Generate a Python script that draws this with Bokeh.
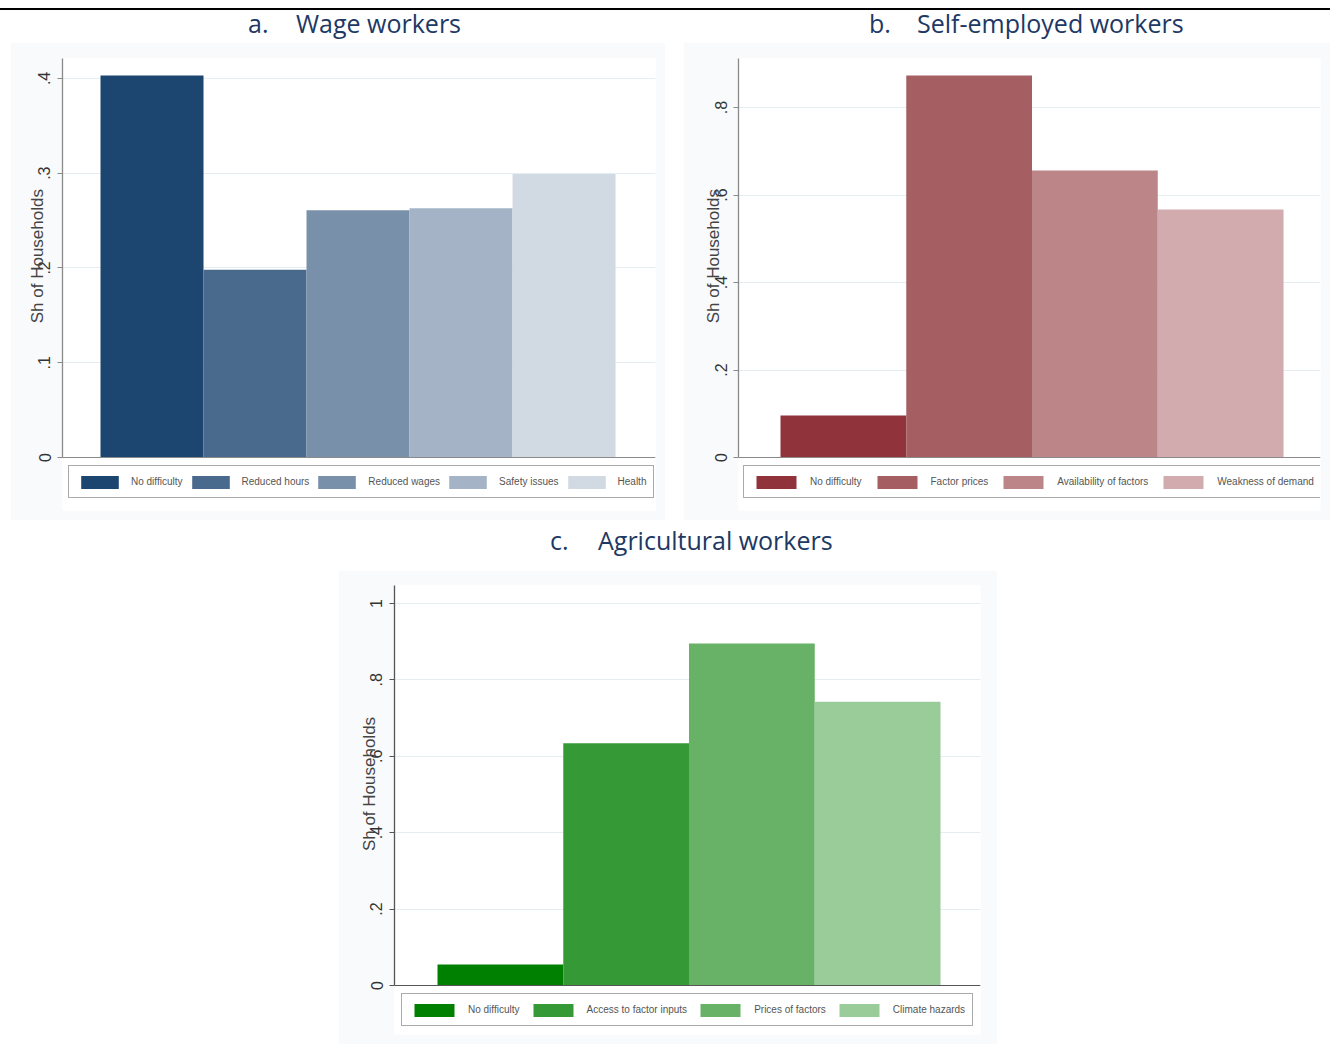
from bokeh.embed import file_html
from bokeh.layouts import column, row
from bokeh.models import (ColumnDataSource, Div, FixedTicker, Legend, LegendItem,
                          Range1d, Spacer, Span)
from bokeh.plotting import figure
from bokeh.resources import INLINE

# ---- data -------------------------------------------------------------------
wage_categories = ["No difficulty", "Reduced hours", "Reduced wages", "Safety issues", "Health"]
wage_shares = [0.403, 0.198, 0.261, 0.263, 0.299]
wage_colors = ["#1c4670", "#496a8c", "#7890a9", "#a4b4c6", "#d1dae3"]
wage_ticks = [0, 0.1, 0.2, 0.3, 0.4]
wage_tick_labels = ["0", ".1", ".2", ".3", ".4"]

self_categories = ["No difficulty", "Factor prices", "Availability of factors", "Weakness of demand"]
self_shares = [0.096, 0.873, 0.656, 0.567]
self_colors = ["#90333b", "#a55f62", "#bc8587", "#d2abae"]
self_ticks = [0, 0.2, 0.4, 0.6, 0.8]
self_tick_labels = ["0", ".2", ".4", ".6", ".8"]

agri_categories = ["No difficulty", "Access to factor inputs", "Prices of factors", "Climate hazards"]
agri_shares = [0.055, 0.634, 0.895, 0.743]
agri_colors = ["#008000", "#359a35", "#67b267", "#99cc99"]
agri_ticks = [0, 0.2, 0.4, 0.6, 0.8, 1.0]
agri_tick_labels = ["0", ".2", ".4", ".6", ".8", "1"]

Y_TITLE = "Sh of Households"
TITLE_COLOR = "#203864"
TITLE_FONT = "'Open Sans', sans-serif"


def bar_panel(cats, vals, colors, ticks, tick_labels, width, height, x_rng, y_max,
              borders, axis_color, legend_style, legend_x, legend_y, plot_px, below_px,
              label_lift):
    left, right, top, bottom = borders
    # the frame reaches below zero to leave room for the legend strip
    y_start = -below_px * y_max / plot_px
    p = figure(width=width, height=height, output_backend="svg", toolbar_location=None,
               x_range=Range1d(*x_rng), y_range=Range1d(y_start, y_max),
               min_border_left=left, min_border_right=right,
               min_border_top=top, min_border_bottom=bottom)
    p.border_fill_color = "#f9fafb"
    p.background_fill_color = "white"
    p.outline_line_color = None

    src = ColumnDataSource(dict(x=list(range(1, len(cats) + 1)), top=vals,
                                color=colors, cat=cats))
    r = p.vbar(x="x", top="top", bottom=0, width=1.0, fill_color="color",
               line_color=None, source=src)

    p.xaxis.visible = False
    p.xgrid.visible = False
    p.ygrid.grid_line_color = "#e4edef"
    p.ygrid.grid_line_width = 1
    p.add_layout(Span(location=0, dimension="width", line_color=axis_color, line_width=1))

    ya = p.yaxis[0]
    ya.bounds = (0, y_max)
    ya.ticker = FixedTicker(ticks=ticks)
    ya.major_label_overrides = {t: lab for t, lab in zip(ticks, tick_labels)}
    ya.major_label_orientation = "parallel"
    ya.major_label_text_font = "Liberation Sans"
    ya.major_label_text_font_size = "16px"
    ya.major_label_text_color = "#333333"
    ya.major_label_standoff = 7
    ya.major_tick_out = 5
    ya.major_tick_in = 0
    ya.minor_tick_line_color = None
    ya.major_tick_line_color = axis_color
    ya.axis_line_color = axis_color
    ya.axis_line_width = 1.3
    # leading no-break spaces lift the title to the middle of the value span
    ya.axis_label = "\u00a0" * label_lift + Y_TITLE
    ya.axis_label_text_font = "Liberation Sans"
    ya.axis_label_text_font_size = "17px"
    ya.axis_label_text_font_style = "normal"
    ya.axis_label_text_color = "#444444"
    ya.axis_label_standoff = -11

    glyph_w, standoff, spacing = legend_style
    items = [LegendItem(label=c, renderers=[r], index=i) for i, c in enumerate(cats)]
    leg = Legend(items=items, orientation="horizontal", location=(legend_x, legend_y),
                 glyph_width=glyph_w, glyph_height=16, label_standoff=standoff,
                 spacing=spacing, padding=7, margin=0, label_height=17,
                 label_text_font="Liberation Sans", label_text_font_size="10px",
                 label_text_color="#555555", border_line_color="#555555",
                 border_line_width=1, background_fill_color="white",
                 background_fill_alpha=1.0)
    p.add_layout(leg)
    return p


def title_span(prefix, name, x_prefix, x_name, top):
    style = (f"position:absolute;top:{top}px;font-family:{TITLE_FONT};font-size:25px;"
             f"line-height:1;color:{TITLE_COLOR};white-space:nowrap;")
    return (f'<span style="{style}left:{x_prefix}px;">{prefix}</span>'
            f'<span style="{style}left:{x_name}px;">{name}</span>')


def title_div(html, height):
    return Div(text=f'<div style="position:relative;width:1330px;height:{height}px;">{html}</div>',
               width=1330, height=height, margin=(0, 0, 0, 0))


rule = Div(text='<div style="position:relative;width:1330px;height:8px;">'
                '<div style="position:absolute;left:0;top:4px;width:1330px;height:2px;'
                'background:#000;"></div></div>',
           width=1330, height=8, margin=(0, 0, 0, 0))

top_titles = title_div(title_span("a.", "Wage workers", 248, 296, 3)
                       + title_span("b.", "Self-employed workers", 869, 917, 3), 34)

panel_a = bar_panel(wage_categories, wage_shares, wage_colors, wage_ticks, wage_tick_labels,
                    655, 478, (0.131, 5.888), 0.421, (52, 10, 16, 10), "#8a8a8a", (47, 8, 4),
                    6, 12, 399, 53, 12)
panel_b = bar_panel(self_categories, self_shares, self_colors, self_ticks, self_tick_labels,
                    647, 478, (0.166, 4.794), 0.912, (55, 10, 16, 10), "#8a8a8a", (50, 9, 10),
                    5, 12, 399, 53, 12)
panel_c = bar_panel(agri_categories, agri_shares, agri_colors, agri_ticks, agri_tick_labels,
                    659, 474, (0.158, 4.818), 1.047, (56, 17, 15, 10), "#555555", (50, 9, 8),
                    7, 8, 400, 49, 11)

bottom_title = title_div(title_span("c.", "Agricultural workers", 550, 598, 8), 50)

layout = column(
    rule,
    top_titles,
    row(Spacer(width=10, height=478, margin=(0, 0, 0, 0)), panel_a,
        Spacer(width=18, height=478, margin=(0, 0, 0, 0)), panel_b),
    bottom_title,
    row(Spacer(width=338, height=474, margin=(0, 0, 0, 0)), panel_c),
)

with open("out.html", "w") as f:
    f.write(file_html(layout, INLINE))
